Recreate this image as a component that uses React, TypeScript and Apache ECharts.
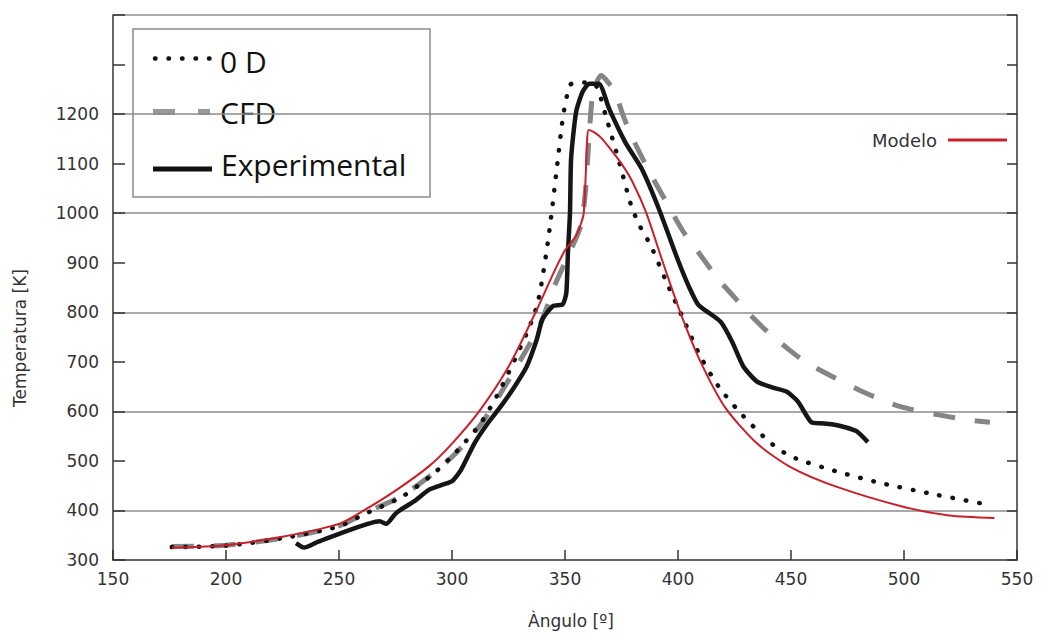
import React, { useEffect, useRef } from "react";
import * as echarts from "echarts";

// ---- data ----
const xTicks = [150, 200, 250, 300, 350, 400, 450, 500, 550];
const yTicks = [300, 400, 500, 600, 700, 800, 900, 1000, 1100, 1200];

const modeloAngle = [176, 200, 225, 250, 261, 275, 290, 300, 312, 325, 337, 345, 350, 355, 357.5, 358.3, 359.2, 359.8, 360.5, 363, 366, 370, 375, 380, 386, 393, 401, 410, 421, 435, 450, 470, 500, 520, 540];
const modeloTemp = [325, 330, 347, 373, 400, 440, 490, 535, 600, 690, 800, 880, 925, 955, 985, 1000, 1080, 1150, 1168, 1163, 1152, 1130, 1100, 1062, 1000, 905, 800, 700, 607, 535, 487, 448, 407, 390, 385];

const od0Angle = [176, 200, 225, 250, 261, 278, 292, 302, 313, 322, 333, 338, 342.6, 346.2, 349, 351, 352.5, 356, 359, 363.7, 368, 374, 379.3, 383, 388, 395, 402, 410, 418, 427, 440, 450, 470, 490, 514, 538];
const od0Temp = [326, 329, 344, 368, 392, 428, 475, 519, 578, 650, 757, 820, 948, 1083, 1191, 1240, 1260, 1264, 1264, 1258, 1197, 1103, 1015, 975, 934, 860, 790, 710, 650, 600, 540, 509, 479, 455, 432, 411];

const cfdAngle = [176, 200, 225, 250, 263, 278, 292, 302, 313, 322, 333, 339, 346, 352.7, 357, 359, 361, 362.5, 366, 368, 372, 375.5, 379, 386.7, 394, 402, 410, 418, 425, 431, 440, 449, 456, 468, 483, 498, 514, 528, 538];
const cfdTemp = [327, 330, 344, 369, 398, 430, 476, 517, 575, 640, 725, 775, 860, 927, 975, 1042, 1177, 1245, 1278, 1270, 1245, 1200, 1160, 1089, 1029, 965, 915, 866, 830, 799, 759, 725, 701, 671, 637, 610, 594, 583, 578];

const expAngle = [231, 234.5, 240.8, 246.6, 254.9, 263.6, 268, 270.9, 275.3, 284, 289.9, 295.8, 300, 304, 310, 316, 321.6, 327, 333, 337.5, 340, 344.8, 349, 350.6, 351.3, 352.2, 352.7, 354.9, 357.8, 360.7, 365, 369.5, 376.7, 384, 391.6, 400, 405, 409, 414, 419, 424, 429, 435, 442, 448, 453, 459, 463, 468, 474, 479, 484];
const expTemp = [334, 325, 337, 347, 361, 374, 378, 373, 395, 421, 442, 452, 459, 482, 536, 577, 610, 645, 690, 745, 786, 813, 816, 840, 921, 1000, 1110, 1204, 1245, 1261, 1261, 1211, 1143, 1089, 1008, 905, 850, 815, 798, 780, 740, 690, 660, 648, 640, 620, 578, 576, 574, 568, 560, 538];

const legendNames = ["0 D", "CFD", "Experimental"];
const modeloName = "Modelo";
const xTitle = "Àngulo [º]";
const yTitle = "Temperatura [K]";

const zip = (a: number[], b: number[]) => a.map((v, i) => [v, b[i]]);

export default function App() {
  const ref = useRef<HTMLDivElement>(null);
  useEffect(() => {
    if (!ref.current) return;
    const chart = echarts.init(ref.current, null, { renderer: "svg" });
    const axisColor = "#333";
    const font = "DejaVu Sans";
    chart.setOption({
      animation: false,
      backgroundColor: "#fff",
      grid: { left: 113, right: 40, top: 15, bottom: 80 },
      xAxis: {
        type: "value",
        min: xTicks[0],
        max: xTicks[xTicks.length - 1],
        interval: 50,
        name: xTitle,
        nameLocation: "middle",
        nameGap: 52,
        nameTextStyle: { color: axisColor, fontSize: 17, fontFamily: font, padding: [0, 0, 0, 12] },
        axisLine: { lineStyle: { color: axisColor, width: 1.5 } },
        axisTick: { inside: true, length: 10, lineStyle: { color: axisColor, width: 1.5 } },
        axisLabel: { color: axisColor, fontSize: 17, fontFamily: font, margin: 10 },
        splitLine: { show: false },
      },
      yAxis: [
        {
          type: "value",
          min: 300,
          max: 1400,
          interval: 100,
          position: "left",
          axisLine: { show: true, lineStyle: { color: axisColor, width: 1.5 } },
          axisTick: { show: true, inside: true, length: 12, lineStyle: { color: axisColor, width: 1.5 } },
          axisLabel: {
            color: axisColor,
            fontSize: 17,
            fontFamily: font,
            margin: 14,
            formatter: (v: number) => (yTicks.includes(v) ? String(v) : ""),
          },
          splitLine: {
            show: true,
            showMinLine: true,
            showMaxLine: true,
            lineStyle: { color: ["rgba(0,0,0,0)", "#8c8c8c"], width: 1.5 },
          },
        },
        {
          type: "value",
          min: 300,
          max: 1400,
          interval: 100,
          position: "right",
          axisLine: { show: true, lineStyle: { color: axisColor, width: 1.5 } },
          axisTick: { show: true, inside: true, length: 10, lineStyle: { color: axisColor, width: 1.5 } },
          axisLabel: { show: false },
          splitLine: { show: false },
        },
      ],
      series: [
        {
          name: legendNames[1],
          type: "line",
          data: zip(cfdAngle, cfdTemp),
          showSymbol: false,
          symbol: "none",
          smooth: 0.25,
          lineStyle: { color: "#858585", width: 5, type: [22, 20] },
          z: 2,
        },
        {
          name: legendNames[0],
          type: "line",
          data: zip(od0Angle, od0Temp),
          showSymbol: false,
          symbol: "none",
          smooth: 0.25,
          lineStyle: { color: "#111", width: 4.5, type: [0.5, 13], cap: "round" },
          z: 3,
        },
        {
          name: legendNames[2],
          type: "line",
          data: zip(expAngle, expTemp),
          showSymbol: false,
          symbol: "none",
          smooth: 0.2,
          lineStyle: { color: "#161616", width: 4.5 },
          z: 4,
        },
        {
          name: modeloName,
          type: "line",
          data: zip(modeloAngle, modeloTemp),
          showSymbol: false,
          symbol: "none",
          smooth: 0.25,
          lineStyle: { color: "#c8202a", width: 2 },
          z: 5,
        },
      ],
      graphic: [
        {
          type: "text",
          x: 20,
          y: 338,
          rotation: Math.PI / 2,
          style: { text: yTitle, fill: axisColor, fontSize: 17, fontFamily: font, align: "center", verticalAlign: "middle" },
        },
        {
          type: "group",
          z: 100,
          children: [
            { type: "rect", shape: { x: 133, y: 29, width: 297, height: 168 }, style: { fill: "#fff", stroke: "#8c8c8c", lineWidth: 1.5 } },
            { type: "line", shape: { x1: 155, y1: 58.5, x2: 210, y2: 58.5 }, style: { stroke: "#111", lineWidth: 4.5, lineDash: [0.5, 13], lineCap: "round" } },
            { type: "line", shape: { x1: 153, y1: 112, x2: 210, y2: 112 }, style: { stroke: "#999", lineWidth: 6, lineDash: [22, 23] } },
            { type: "line", shape: { x1: 153, y1: 169, x2: 212, y2: 169 }, style: { stroke: "#111", lineWidth: 5 } },
            { type: "text", x: 220, y: 61, style: { text: legendNames[0], fill: "#111", fontSize: 30, fontFamily: "Open Sans", verticalAlign: "middle" } },
            { type: "text", x: 220, y: 112, style: { text: legendNames[1], fill: "#111", fontSize: 30, fontFamily: "Open Sans", verticalAlign: "middle" } },
            { type: "text", x: 221, y: 164, style: { text: legendNames[2], fill: "#111", fontSize: 30, fontFamily: "Open Sans", verticalAlign: "middle" } },
          ],
        },
        {
          type: "group",
          z: 100,
          children: [
            { type: "text", x: 937, y: 140, style: { text: modeloName, fill: axisColor, fontSize: 18, fontFamily: font, align: "right", verticalAlign: "middle" } },
            { type: "line", shape: { x1: 948, y1: 140, x2: 1007, y2: 140 }, style: { stroke: "#c8202a", lineWidth: 3 } },
          ],
        },
      ],
    });
    return () => chart.dispose();
  }, []);
  return (
    <div
      ref={ref}
      style={{ position: "fixed", left: 0, top: 0, width: 1057, height: 640, background: "#fff" }}
    />
  );
}
